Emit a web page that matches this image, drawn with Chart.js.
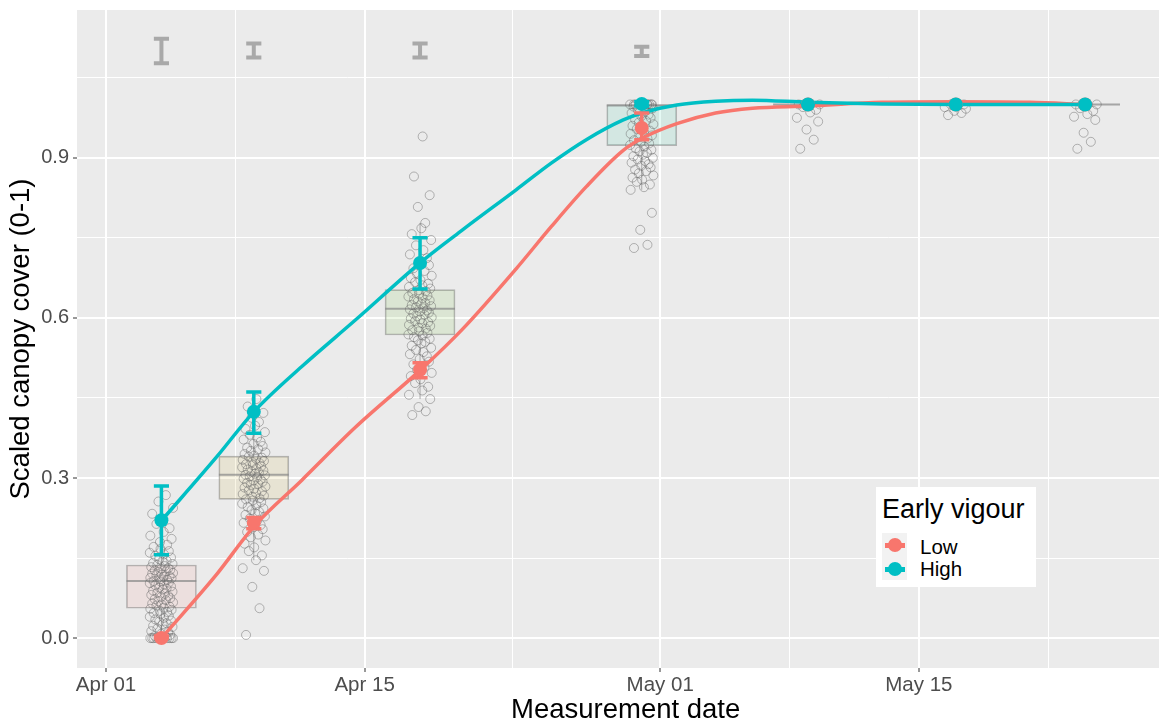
<!DOCTYPE html>
<html>
<head>
<meta charset="utf-8">
<script src="https://cdn.jsdelivr.net/npm/chart.js@4.4.1/dist/chart.umd.min.js"></script>
<style>
  html, body { margin: 0; padding: 0; background: #fff; }
  #marco { position: relative; width: 1166px; height: 724px; font-family: "Liberation Sans", Arial, sans-serif; }
  #grafico { position: absolute; left: 0; top: 0; }
  #leyenda { position: absolute; left: 876px; top: 487px; width: 160px; height: 100px; background: #fff; }
  #leyenda .titulo { position: absolute; left: 6px; top: 8.5px; font-size: 27px; line-height: 27px; color: #000; white-space: nowrap; }
  #leyenda .fondoClave { position: absolute; left: 6px; top: 46px; width: 25px; height: 47px; background: #F2F2F2; }
  #leyenda .raya { position: absolute; width: 20px; height: 5px; left: 8.5px; }
  #leyenda .bola { position: absolute; width: 14px; height: 14px; border-radius: 50%; left: 11.5px; }
  #leyenda .etiqueta { position: absolute; left: 44px; font-size: 20.5px; line-height: 20.5px; color: #000; }
</style>
</head>
<body>
<div id="marco">
  <canvas id="grafico" width="1166" height="724"></canvas>
  <div id="leyenda">
    <div class="titulo">Early vigour</div>
    <div class="fondoClave"></div>
    <div class="raya" style="top:55.5px;background:#F8766D"></div>
    <div class="bola" style="top:51px;background:#F8766D"></div>
    <div class="raya" style="top:79.5px;background:#00BFC4"></div>
    <div class="bola" style="top:75px;background:#00BFC4"></div>
    <div class="etiqueta" style="top:49.5px">Low</div>
    <div class="etiqueta" style="top:72.3px">High</div>
  </div>
</div>
<script>
const grafico = document.getElementById("grafico");
const fuente = '"Liberation Sans", Arial, sans-serif';

// dias desde Apr 01
const dias = [3, 8, 17, 29, 38, 46, 53];

// medias y error estandar por grupo
const mediaLow = [0.0, 0.216, 0.503, 0.956, 1.0, 1.0, 1.0];
const mediaHigh = [0.221, 0.424, 0.703, 1.001, 1.0, 1.0, 1.0];
const errLowMin = [0.0, 0.205, 0.488, 0.934, 1.0, 1.0, 1.0];
const errLowMax = [0.004, 0.226, 0.516, 0.984, 1.0, 1.0, 1.0];
const errHighMin = [0.156, 0.384, 0.654, 0.997, 1.0, 1.0, 1.0];
const errHighMax = [0.285, 0.461, 0.75, 1.005, 1.0, 1.0, 1.0];

// curvas suavizadas
const diasSuave = [3, 6, 8, 10.6, 13.5, 17.1, 19.3, 22.2, 24.1, 26, 28, 29.1, 30.9, 33, 35, 38, 42, 46, 50, 53];
const suaveLow = [0.0, 0.12, 0.209, 0.296, 0.395, 0.505, 0.579, 0.692, 0.771, 0.846, 0.914, 0.938, 0.964, 0.984, 0.993, 0.997, 1.004, 1.005, 1.004, 1.0];
const suaveHigh = [0.22, 0.34, 0.424, 0.509, 0.596, 0.706, 0.765, 0.84, 0.89, 0.934, 0.971, 0.985, 0.999, 1.006, 1.008, 1.004, 1.001, 1.0, 1.0, 1.0];

// cajas (boxplot) por fecha
const cajaQ1 = [0.056, 0.26, 0.568, 0.923, 1.0, 1.0, 1.0];
const cajaMediana = [0.107, 0.306, 0.617, 0.998, 1.0, 1.0, 1.0];
const cajaQ3 = [0.137, 0.341, 0.653, 1.0, 1.0, 1.0, 1.0];
const bigoteMin = [0.0, 0.146, 0.448, 0.84, 1.0, 1.0, 1.0];
const bigoteMax = [0.256, 0.448, 0.778, 1.0, 1.0, 1.0, 1.0];

// barras grises de arriba
const barraMin = [1.077, 1.088, 1.088, 1.091];
const barraMax = [1.123, 1.114, 1.114, 1.108];

// observaciones individuales
const obsDia3 = [0, 0, 0, 0, 0, 0, 0, 0, 0, 0, 0, 0, 0.002, 0.004, 0.006, 0.008, 0.011, 0.013, 0.016, 0.018, 0.021, 0.023,
  0.026, 0.028, 0.031, 0.033, 0.035, 0.038, 0.04, 0.042, 0.045, 0.047, 0.049, 0.051, 0.053, 0.055, 0.057, 0.059, 0.061,
  0.063, 0.065, 0.067, 0.069, 0.071, 0.073, 0.075, 0.077, 0.079, 0.081, 0.083, 0.085, 0.087, 0.089, 0.091, 0.093, 0.095,
  0.097, 0.099, 0.101, 0.103, 0.104, 0.106, 0.107, 0.109, 0.11, 0.112, 0.113, 0.115, 0.116, 0.118, 0.119, 0.121, 0.122,
  0.124, 0.125, 0.127, 0.128, 0.13, 0.131, 0.133, 0.135, 0.137, 0.139, 0.141, 0.143, 0.145, 0.148, 0.151, 0.154, 0.157,
  0.16, 0.163, 0.167, 0.171, 0.175, 0.18, 0.186, 0.192, 0.199, 0.206, 0.214, 0.223, 0.233, 0.244, 0.256, 0.268];
const obsDia8 = [0.006, 0.056, 0.096, 0.126, 0.131, 0.146, 0.155, 0.163, 0.17, 0.177, 0.183, 0.189, 0.194, 0.199, 0.204,
  0.208, 0.212, 0.216, 0.22, 0.224, 0.228, 0.231, 0.234, 0.237, 0.24, 0.243, 0.246, 0.249, 0.252, 0.255, 0.258, 0.26,
  0.262, 0.265, 0.267, 0.27, 0.272, 0.275, 0.277, 0.28, 0.282, 0.284, 0.287, 0.289, 0.291, 0.293, 0.295, 0.297, 0.299,
  0.301, 0.303, 0.305, 0.306, 0.308, 0.31, 0.312, 0.314, 0.316, 0.318, 0.32, 0.322, 0.324, 0.326, 0.328, 0.33, 0.332,
  0.334, 0.336, 0.338, 0.34, 0.342, 0.345, 0.348, 0.351, 0.354, 0.357, 0.36, 0.364, 0.368, 0.372, 0.376, 0.381, 0.386,
  0.392, 0.398, 0.405, 0.413, 0.422, 0.434, 0.448];
const obsDia17 = [0.418, 0.425, 0.433, 0.448, 0.456, 0.464, 0.471, 0.478, 0.485, 0.491, 0.497, 0.503, 0.508, 0.513, 0.518,
  0.523, 0.528, 0.532, 0.536, 0.54, 0.544, 0.548, 0.552, 0.555, 0.558, 0.561, 0.564, 0.567, 0.569, 0.572, 0.575, 0.577,
  0.58, 0.582, 0.585, 0.587, 0.59, 0.592, 0.594, 0.597, 0.599, 0.601, 0.603, 0.606, 0.608, 0.61, 0.612, 0.614, 0.616,
  0.618, 0.62, 0.622, 0.624, 0.626, 0.628, 0.631, 0.633, 0.635, 0.637, 0.64, 0.642, 0.645, 0.647, 0.65, 0.652, 0.655,
  0.658, 0.661, 0.664, 0.667, 0.671, 0.675, 0.679, 0.683, 0.688, 0.693, 0.699, 0.705, 0.712, 0.719, 0.727, 0.736, 0.746,
  0.757, 0.768, 0.778, 0.808, 0.83, 0.865, 0.94];
const obsDia29 = [0.731, 0.737, 0.765, 0.797, 0.84, 0.845, 0.85, 0.855, 0.859, 0.863, 0.867, 0.871, 0.875, 0.878, 0.882,
  0.885, 0.888, 0.891, 0.894, 0.897, 0.9, 0.903, 0.906, 0.909, 0.912, 0.915, 0.918, 0.921, 0.924, 0.927, 0.93, 0.933,
  0.936, 0.939, 0.942, 0.945, 0.948, 0.951, 0.954, 0.957, 0.96, 0.963, 0.966, 0.969, 0.972, 0.975, 0.978, 0.981, 0.984,
  0.987, 0.99, 0.993, 0.996, 0.998, 1, 1, 1, 1, 1, 1, 1, 1, 1, 1, 1, 1];
const obsDia38 = [0.917, 0.934, 0.953, 0.968, 0.975, 0.985, 0.99, 0.995, 1, 1, 1, 1];
const obsDia46 = [0.98, 0.984, 0.988, 0.992, 0.995, 1, 1, 1, 1];
const obsDia53 = [0.917, 0.93, 0.947, 0.971, 0.977, 0.982, 0.988, 0.993, 1, 1, 1, 1];
const observaciones = [obsDia3, obsDia8, obsDia17, obsDia29, obsDia38, obsDia46, obsDia53];

// ejes
const xMayores = [0, 14, 30, 44];
const xEtiquetas = ["Apr 01", "Apr 15", "May 01", "May 15"];
const xMenores = [7, 22, 37, 51];
const yMayores = [0, 0.3, 0.6, 0.9];
const yMenores = [0.15, 0.45, 0.75, 1.05];

// estilo
const rojo = "#F8766D";
const turquesa = "#00BFC4";
const coloresCaja = ["rgba(248,118,109,0.1)", "rgba(196,154,0,0.1)", "rgba(83,180,0,0.1)", "rgba(0,192,148,0.1)",
  "rgba(0,182,235,0.1)", "rgba(165,138,255,0.1)", "rgba(251,97,215,0.1)"];
const medioCaja = 1.89;   // mitad del ancho de caja, en dias
const medioTope = 0.41;   // mitad del ancho de tope de barra de error, en dias
const jitter = [-0.42, 0.31, -0.08, 0.55, -0.6, 0.12, 0.44, -0.27, 0.02, -0.5, 0.63, -0.16, 0.24, -0.36, 0.48,
  -0.02, 0.37, -0.55, 0.18, -0.22, 0.6, -0.45, 0.07, 0.28, -0.12, 0.52, -0.33, 0.14, -0.63, 0.4, -0.05];

function esta(lista, v) {
  return lista.some(m => Math.abs(m - v) < 1e-9);
}

function segmentosError(xs, mins, maxs) {
  const pts = [];
  xs.forEach((d, i) => {
    if (maxs[i] - mins[i] <= 0) return;
    pts.push({x: d, y: mins[i]}, {x: d, y: maxs[i]}, {x: d, y: null});
    pts.push({x: d - medioTope, y: mins[i]}, {x: d + medioTope, y: mins[i]}, {x: d, y: null});
    pts.push({x: d - medioTope, y: maxs[i]}, {x: d + medioTope, y: maxs[i]}, {x: d, y: null});
  });
  return pts;
}

const puntosJitter = [];
observaciones.forEach((vals, k) => {
  vals.forEach((v, i) => puntosJitter.push({x: dias[k] + jitter[i % jitter.length], y: v}));
});

const medianas = [];
dias.forEach((d, i) => medianas.push({x: d - medioCaja, y: cajaMediana[i]}, {x: d + medioCaja, y: cajaMediana[i]}, {x: d, y: null}));

const bigotes = [];
dias.forEach((d, i) => {
  if (bigoteMin[i] < cajaQ1[i]) bigotes.push({x: d, y: bigoteMin[i]}, {x: d, y: cajaQ1[i]}, {x: d, y: null});
  if (bigoteMax[i] > cajaQ3[i]) bigotes.push({x: d, y: cajaQ3[i]}, {x: d, y: bigoteMax[i]}, {x: d, y: null});
});

const lineaSimple = {type: "line", pointRadius: 0, tension: 0, spanGaps: false, fill: false};

const fondoPanel = {
  id: "fondoPanel",
  beforeDraw(chart) {
    const {ctx, chartArea: a} = chart;
    ctx.save();
    ctx.fillStyle = "#EBEBEB";
    ctx.fillRect(a.left, a.top, a.right - a.left, a.bottom - a.top);
    ctx.restore();
  }
};

new Chart(grafico, {
  type: "scatter",
  data: {
    datasets: [
      {type: "scatter", label: "High", data: dias.map((d, i) => ({x: d, y: mediaHigh[i]})),
        pointRadius: 7, backgroundColor: turquesa, borderColor: turquesa, borderWidth: 0},
      {type: "scatter", label: "Low", data: dias.map((d, i) => ({x: d, y: mediaLow[i]})),
        pointRadius: 7, backgroundColor: rojo, borderColor: rojo, borderWidth: 0},
      {...lineaSimple, data: segmentosError(dias, errHighMin, errHighMax), borderColor: turquesa, borderWidth: 3.5},
      {...lineaSimple, data: segmentosError(dias, errLowMin, errLowMax), borderColor: rojo, borderWidth: 3.5},
      {type: "line", data: diasSuave.map((d, i) => ({x: d, y: suaveHigh[i]})), borderColor: turquesa,
        borderWidth: 3.5, pointRadius: 0, cubicInterpolationMode: "monotone", fill: false},
      {type: "line", data: diasSuave.map((d, i) => ({x: d, y: suaveLow[i]})), borderColor: rojo,
        borderWidth: 3.5, pointRadius: 0, cubicInterpolationMode: "monotone", fill: false},
      {...lineaSimple, data: segmentosError(dias.slice(0, 4), barraMin, barraMax), borderColor: "#A9A9A9", borderWidth: 4},
      {type: "scatter", data: puntosJitter, pointRadius: 4.5, backgroundColor: "rgba(0,0,0,0)",
        borderColor: "rgba(100,100,100,0.45)", borderWidth: 1},
      {...lineaSimple, data: medianas, borderColor: "rgba(135,135,135,0.7)", borderWidth: 2},
      {...lineaSimple, data: bigotes, borderColor: "rgba(140,140,140,0.7)", borderWidth: 1},
      {type: "bar", data: dias.map((d, i) => ({x: d, y: [cajaQ1[i], cajaQ3[i]]})), backgroundColor: coloresCaja,
        borderColor: "rgba(140,140,140,0.6)", borderWidth: 1, borderSkipped: false, barThickness: 70, grouped: false}
    ]
  },
  options: {
    responsive: false,
    animation: false,
    events: [],
    layout: {padding: {top: 10, right: 4, left: 0, bottom: 0}},
    plugins: {legend: {display: false}, tooltip: {enabled: false}},
    scales: {
      x: {
        type: "linear", min: -1.57, max: 57, offset: false,
        afterBuildTicks: s => { s.ticks = xMayores.concat(xMenores).sort((a, b) => a - b).map(v => ({value: v})); },
        afterFit: s => { s.height = 56; s.paddingLeft = 0; s.paddingRight = 0; },
        ticks: {
          autoSkip: false, maxRotation: 0, padding: 1, color: "#4D4D4D",
          font: {family: fuente, size: 20.5},
          callback: v => esta(xMayores, v) ? xEtiquetas[xMayores.findIndex(m => Math.abs(m - v) < 1e-9)] : ""
        },
        grid: {
          offset: false, color: "#FFFFFF",
          lineWidth: c => (c.tick && esta(xMayores, c.tick.value)) ? 2 : 1,
          tickLength: 4, tickWidth: 1,
          tickColor: c => (c.tick && esta(xMayores, c.tick.value)) ? "#333333" : "rgba(0,0,0,0)"
        },
        border: {display: false},
        title: {display: true, text: "  Measurement date", color: "#000",
          font: {family: fuente, size: 27.5, lineHeight: 1}, padding: {top: 0, bottom: 0}}
      },
      y: {
        type: "linear", min: -0.056, max: 1.177,
        afterBuildTicks: s => { s.ticks = yMayores.concat(yMenores).sort((a, b) => a - b).map(v => ({value: v})); },
        afterFit: s => { s.width = 77; s.paddingTop = 0; s.paddingBottom = 0; },
        ticks: {
          autoSkip: false, padding: 4, color: "#4D4D4D",
          font: {family: fuente, size: 20},
          callback: v => esta(yMayores, v) ? v.toFixed(1) : ""
        },
        grid: {
          color: "#FFFFFF",
          lineWidth: c => (c.tick && esta(yMayores, c.tick.value)) ? 2 : 1,
          tickLength: 4, tickWidth: 1,
          tickColor: c => (c.tick && esta(yMayores, c.tick.value)) ? "#333333" : "rgba(0,0,0,0)"
        },
        border: {display: false},
        title: {display: true, text: "Scaled canopy cover (0-1)", color: "#000",
          font: {family: fuente, size: 27.5, lineHeight: 1}, padding: {top: 7.5, bottom: 0}}
      }
    }
  },
  plugins: [fondoPanel]
});
</script>
</body>
</html>
